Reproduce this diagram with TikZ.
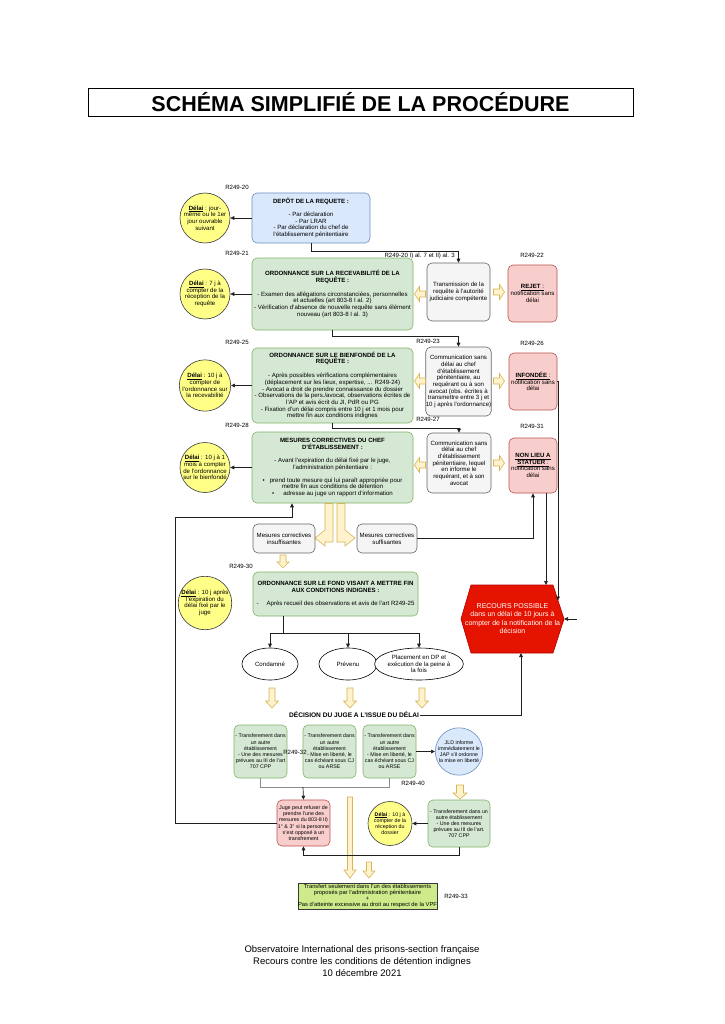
\documentclass[tikz,border=0pt]{standalone}
\usepackage{fontspec}
\setmainfont{Liberation Sans}
\usetikzlibrary{arrows.meta,calc,shapes.geometric}
\definecolor{gfill}{HTML}{D5E8D4}
\definecolor{gdraw}{HTML}{82B366}
\definecolor{bfill}{HTML}{DAE8FC}
\definecolor{bdraw}{HTML}{6C8EBF}
\definecolor{grfill}{HTML}{F5F5F5}
\definecolor{grdraw}{HTML}{666666}
\definecolor{rfill}{HTML}{F8CECC}
\definecolor{rdraw}{HTML}{B85450}
\definecolor{yfill}{HTML}{FFFF88}
\definecolor{ydraw}{HTML}{36393D}
\definecolor{afill}{HTML}{FFF2CC}
\definecolor{adraw}{HTML}{D6B656}
\definecolor{lfill}{HTML}{CDEB8B}
\definecolor{hfill}{HTML}{E51400}
\definecolor{hdraw}{HTML}{B20000}
\definecolor{lnc}{HTML}{1F1F1F}
\definecolor{brc}{HTML}{8C8C8C}
\newcommand\fA{\fontsize{6.1}{6.7}\selectfont}
\newcommand\fB{\fontsize{5.3}{6.2}\selectfont}
\newcommand\delai{\underline{\textbf{Délai}}}
\newcommand\yarw[7]{\begin{scope}[shift={(#1,#2)},rotate=#3]\path[yarr] (-#4,-#5) -- (#4-#7,-#5) -- (#4-#7,-#6) -- (#4,0) -- (#4-#7,#6) -- (#4-#7,#5) -- (-#4,#5) -- cycle;\end{scope}}
\begin{document}
\begin{tikzpicture}[x=1pt,y=-1pt,
 box/.style={rounded corners=5pt, line width=0.6pt, align=center, inner sep=0pt, font=\fA},
 gbox/.style={box, fill=gfill, draw=gdraw},
 bbox/.style={box, fill=bfill, draw=bdraw},
 grbox/.style={box, fill=grfill, draw=grdraw},
 rbox/.style={box, fill=rfill, draw=rdraw},
 ycirc/.style={circle, fill=yfill, draw=ydraw, line width=0.6pt, minimum size=50pt, inner sep=0pt, align=center, font=\fA},
 conn/.style={draw=lnc, line width=0.7pt, -{Triangle[length=4pt,width=3.6pt]}},
 plain/.style={draw=lnc, line width=0.7pt},
 gline/.style={draw=brc, line width=0.9pt},
 lbl/.style={font=\fA, inner sep=0pt},
 yarr/.style={fill=afill, draw=adraw, line width=0.6pt},
 ell/.style={ellipse, draw=black, fill=white, line width=0.6pt, inner sep=0pt, align=center, font=\fA, minimum height=32pt}
]
\useasboundingbox (0,0) rectangle (724,1024);
\fill[white] (0,0) rectangle (724,1024);

% title
\node[draw=black, line width=0.8pt, minimum width=545pt, minimum height=28pt, inner sep=0pt, font=\fontsize{21.5}{24}\selectfont\bfseries] (title) at (360.5,102) {SCHÉMA SIMPLIFIÉ DE LA PROCÉDURE};

% row 0
\node[bbox, minimum width=118pt, minimum height=50pt] (dep) at (311,218) {\textbf{DEPÔT DE LA REQUETE :}\\[6pt] - Par déclaration\\ - Par LRAR\\ - Par déclaration du chef de\\ l'établissement pénitentiaire};
\node[ycirc] (c1) at (205,218) {\delai{} : jour-\\même ou le 1er\\jour ouvrable\\suivant};
\node[lbl] (l20) at (237,187) {R249-20};

% row 1
\node[gbox, minimum width=161pt, minimum height=72pt] (g1) at (332.5,294) {\textbf{ORDONNANCE SUR LA RECEVABILITÉ DE LA}\\ \textbf{REQUÊTE :}\\[7pt] - Examen des allégations circonstanciées, personnelles\\ et actuelles (art 803-8 I al. 2)\\ - Vérification d'absence de nouvelle requête sans élément\\ nouveau (art 803-8 I al. 3)};
\node[ycirc] (c2) at (205,294) {\delai{} : 7 j à\\compter de la\\réception de la\\requête};
\node[grbox, minimum width=63pt, minimum height=58pt] (trans) at (458.5,292) {Transmission de la\\requête à l'autorité\\judiciaire compétente};
\node[rbox, minimum width=49pt, minimum height=57pt] (r1) at (532.5,293.5) {\underline{\textbf{REJET} :}\\notification sans\\délai};
\node[lbl] (l21) at (237,253) {R249-21};
\node[lbl, anchor=east] (l20b) at (455,256) {R249-20 I) al. 7 et II) al. 3};
\node[lbl] (l22) at (532,255) {R249-22};

% row 2
\node[gbox, minimum width=161pt, minimum height=75pt] (g2) at (332.5,385.5) {\textbf{ORDONNANCE SUR LE BIENFONDÉ DE LA}\\ \textbf{REQUÊTE :}\\[7pt] - Après possibles vérifications complémentaires\\ (déplacement sur les lieux, expertise, ... R249-24)\\ - Avocat a droit de prendre connaissance du dossier\\ - Observations de la pers./avocat, observations écrites de\\ l'AP et avis écrit du JI, PdR ou PG\\ - Fixation d'un délai compris entre 10 j et 1 mois pour\\ mettre fin aux conditions indignes};
\node[ycirc] (c3) at (205,385.5) {\delai{} : 10 j à\\compter de\\l'ordonnance sur\\la recevabilité};
\node[grbox, minimum width=63pt, minimum height=69pt] (grey2) at (458.5,381.5) {Communication sans\\délai au chef\\d'établissement\\pénitentiaire, au\\requérant ou à son\\avocat (obs. écrites à\\transmettre entre 3 j et\\10 j après l'ordonnance)};
\node[rbox, minimum width=48pt, minimum height=57pt] (r2) at (533,381.5) {\underline{\textbf{INFONDÉE} :}\\notification sans\\délai};
\node[lbl] (l25) at (237,342) {R249-25};
\node[lbl] (l23) at (428,341) {R249-23};
\node[lbl] (l26) at (532,343) {R249-26};

% row 3
\node[gbox, minimum width=161pt, minimum height=71pt] (g3) at (332.5,467.5) {\textbf{MESURES CORRECTIVES DU CHEF}\\ \textbf{D'ÉTABLISSEMENT :}\\[7pt] - Avant l'expiration du délai fixé par le juge,\\ l'administration pénitentiaire :\\[6pt] •\hspace{5pt}prend toute mesure qui lui paraît appropriée pour\\ mettre fin aux conditions de détention\\ •\hspace{9pt}adresse au juge un rapport d'information};
\node[ycirc] (c4) at (205,467.5) {\delai{} : 10 j à 1\\mois à compter\\de l'ordonnance\\sur le bienfondé};
\node[grbox, minimum width=64pt, minimum height=60pt] (grey3) at (459,463) {Communication sans\\délai au chef\\d'établissement\\pénitentiaire, lequel\\en informe le\\requérant, et à son\\avocat};
\node[rbox, minimum width=48pt, minimum height=55pt] (r3) at (533,465.5) {\underline{\textbf{NON LIEU A}}\\ \underline{\textbf{STATUER} :}\\notification sans\\délai};
\node[lbl] (l28) at (237,425) {R249-28};
\node[lbl] (l27) at (428,419) {R249-27};
\node[lbl] (l31) at (532,426) {R249-31};

% yellow side arrows
\yarw{420}{294}{180}{5.5}{3}{7.5}{5}
\yarw{499}{292}{0}{5.5}{3}{7.5}{5}
\yarw{420}{381}{180}{5.5}{3}{7.5}{5}
\yarw{499}{381}{0}{5.5}{3}{7.5}{5}
\yarw{420}{465}{180}{5.5}{3}{7.5}{5}
\yarw{499}{463}{0}{5.5}{3}{7.5}{5}

% split yellow arrows
\path[yarr] (333,503.5) -- (333,542) -- (325,542) -- (325,546) -- (315,538) -- (325,530) -- (325,503.5) -- cycle;
\path[yarr] (337,503.5) -- (337,542) -- (345,542) -- (345,546) -- (355,538) -- (345,530) -- (345,503.5) -- cycle;

\node[grbox, minimum width=62pt, minimum height=29pt] (insuf) at (284,538.5) {Mesures correctives\\insuffisantes};
\node[grbox, minimum width=60pt, minimum height=29pt] (suf) at (387,538.5) {Mesures correctives\\suffisantes};
\yarw{283}{561.5}{-90}{6.5}{3}{6}{6}

% row 4
\node[gbox, minimum width=165pt, minimum height=44pt] (g4) at (335.5,594) {\textbf{ORDONNANCE SUR LE FOND VISANT A METTRE FIN}\\ \textbf{AUX CONDITIONS INDIGNES :}\\[6pt] -\hspace{8pt}Après recueil des observations et avis de l'art R249-25};
\node[ycirc] (c5) at (205,603) {\delai{} : 10 j après\\l'expiration du\\délai fixé par le\\juge};
\node[lbl] (l30) at (241,566) {R249-30};

% hexagon
\path[fill=hfill, draw=hdraw, line width=0.6pt] (471,585) -- (553,585) -- (564,619) -- (553,653) -- (471,653) -- (461,619) -- cycle;
\node[font=\fontsize{7}{8.3}\selectfont, text=white, align=center, inner sep=0pt] (hex) at (512.5,618.5) {RECOURS POSSIBLE\\dans un délai de 10 jours à\\compter de la notification de la\\décision};
\coordinate (hA) at (558,600.5);
\coordinate (hB) at (546,585);
\coordinate (hR) at (564,619);
\coordinate (hIn) at (577,619);
\coordinate (hBot) at (521,653);

% ellipses
\node[ell, minimum width=56pt] (e1) at (270,664) {Condamné};
\node[ell, minimum width=58pt] (e2) at (348,664) {Prévenu};
\node[ell, minimum width=52pt] (e3) at (419,664) {Placement en DP et\\exécution de la peine à\\la fois};
\yarw{272}{698}{-90}{10}{3}{6.5}{7}
\yarw{350}{698}{-90}{10}{3}{6.5}{7}
\yarw{422}{698}{-90}{10}{3}{6.5}{7}

\node[font=\fontsize{6.6}{7}\selectfont\bfseries, inner sep=1pt] (dec) at (354,715) {DÉCISION DU JUGE A L'ISSUE DU DÉLAI};

% bottom boxes
\node[gbox, font=\fB, minimum width=53pt, minimum height=53pt] (bA) at (260.5,751.5) {- Transferement dans\\un autre\\établissement\\- Une des mesures\\prévues au III de l'art\\707 CPP};
\node[gbox, font=\fB, minimum width=53pt, minimum height=53pt] (bB) at (329.5,751.5) {- Transferement dans\\un autre\\établissement\\- Mise en liberté, le\\cas échéant sous CJ\\ou ARSE};
\node[gbox, font=\fB, minimum width=53pt, minimum height=53pt] (bC) at (389.5,751.5) {- Transferement dans\\un autre\\établissement\\- Mise en liberté, le\\cas échéant sous CJ\\ou ARSE};
\node[circle, fill=bfill, draw=bdraw, line width=0.6pt, minimum size=45pt, inner sep=0pt, align=center, font=\fB] (jld) at (459,751.5) {JLD informe\\immédiatement le\\JAP s'il ordonne\\la mise en liberté};
\node[lbl] (l32) at (295,752) {R249-32};
\node[lbl] (l40) at (413,783) {R249-40};
\yarw{460}{792}{-90}{7}{3.5}{7}{6}

\node[rbox, font=\fB, minimum width=53pt, minimum height=46pt] (juge) at (303.5,823) {Juge peut refuser de\\prendre l'une des\\mesures du 803-8 II)\\1° \& 3° si la personne\\s'est opposé à un\\transfrement};
\node[ycirc, font=\fB, minimum size=44pt] (c6) at (390,823.5) {\delai{} : 10 j à\\compter de la\\réception du\\dossier};
\node[gbox, font=\fB, minimum width=62pt, minimum height=47pt] (bD) at (459,823.5) {- Transferement dans un\\autre établissement\\- Une des mesures\\prévues au III de l'art.\\707 CPP};

\yarw{350}{837.5}{-90}{40.5}{2.5}{6}{8}
\yarw{369}{870}{-90}{8}{2.5}{6}{7}

\node[draw=ydraw, fill=lfill, line width=0.6pt, minimum width=139pt, minimum height=26pt, inner sep=0pt, align=center, font=\fontsize{5.8}{6.2}\selectfont] (fin) at (367.5,896) {Transfert seulement dans l'un des établissements\\proposés par l'administration pénitentiaire\\+\\Pas d'atteinte excessive au droit au respect de la VPF};
\node[lbl] (l33) at (456,896) {R249-33};

% footer
\node[font=\fontsize{9.5}{11.8}\selectfont, align=center, inner sep=0pt] (foot) at (362,961) {Observatoire International des prisons-section française\\Recours contre les conditions de détention indignes\\10 décembre 2021};

% connectors
\coordinate (lp) at (175,517);
\coordinate (c292) at (292,0);
\coordinate (br) at (283,633);
\coordinate (bk) at (303,787);
\draw[conn] (dep.west) -- (c1.east);
\draw[conn] (dep.south) -- ++(0,8) -| (trans.north);
\draw[conn] (g1.west) -- (c2.east);
\draw[conn] (g1.south) -- ++(0,6) -| (grey2.north);
\draw[conn] (g2.west) -- (c3.east);
\draw[conn] (g2.south) -- ++(0,5) -| (grey3.north);
\draw[conn] (g3.west) -- (c4.east);
\draw[conn] (r2.east) -| (hA);
\draw[conn] (r3.south -| hB) -- (hB);
\draw[conn] (suf.east) -| (r3.south);
\draw[conn] (hIn) -- (hR);
\draw[conn] (juge.west) -| (lp) -| (g3.south -| c292);
\draw[plain] (g4.south -| br) -- (br);
\draw[conn] (br) -| (e1.north);
\draw[conn] (br) -| (e2.north);
\draw[conn] (br) -| (e3.north);
\draw[conn] (dec.east) -| (hBot);
\draw[gline] (bA.south) |- (bk);
\draw[gline] (bC.south) |- (bk);
\draw[conn] (bk) -- (juge.north);
\draw[conn] (bC.east) -- (jld.west);
\draw[conn] (bD.west) -- (c6.east);
\draw[conn] (bD.south) -- ++(0,8) -| (juge.south);
\end{tikzpicture}
\end{document}
